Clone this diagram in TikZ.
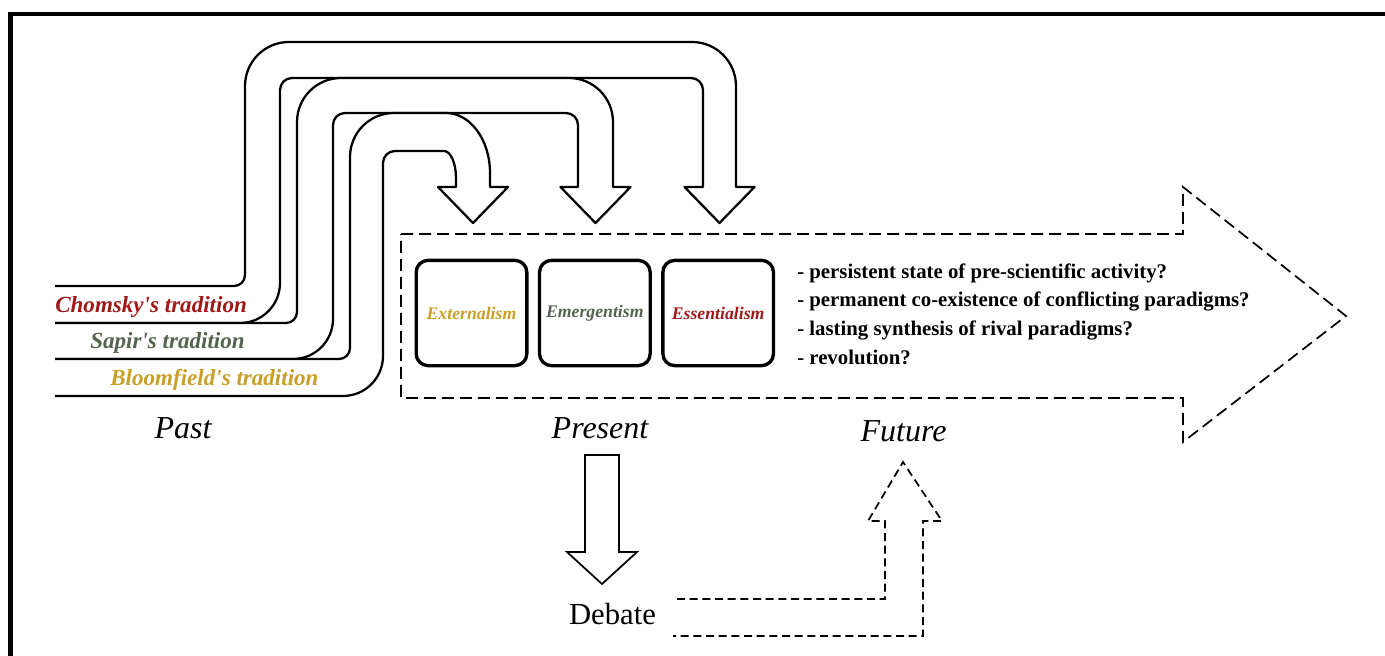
\documentclass[tikz,border=0pt]{standalone}
\usepackage{fontspec}
\setmainfont{Liberation Serif}
\usetikzlibrary{positioning}
\definecolor{chomskyred}{RGB}{160,25,25}
\definecolor{sapirgreen}{RGB}{85,100,78}
\definecolor{bloomgold}{RGB}{200,160,40}
\tikzset{ribbon/.style={draw, fill=white, line width=1.7pt, line join=round}}
\tikzset{dashedshape/.style={draw, line width=1.3pt, dash pattern=on 9pt off 4.5pt}}
\tikzset{paradigm/.style={draw, line width=2.5pt, rounded corners=9pt, minimum width=83pt, minimum height=79pt, inner sep=0pt, font=\fontsize{13.3}{16}\selectfont\bfseries\itshape}}
\tikzset{tradlabel/.style={anchor=base west, inner sep=0pt, font=\fontsize{17.3}{20}\selectfont\bfseries\itshape}}
\tikzset{timelabel/.style={anchor=base, inner sep=0pt, font=\fontsize{24}{28}\selectfont\itshape}}
\tikzset{question/.style={anchor=base west, inner sep=0pt, font=\fontsize{15.6}{19}\selectfont\bfseries}}

\begin{document}
\begin{tikzpicture}[x=0.75pt, y=-0.75pt]
	\useasboundingbox (0,0) rectangle (1385,656);
	\draw[line width=3.4pt] (10.5,656) -- (10.5,14) -- (1385,14);
	%
	\foreach \yup/\ylo/\xout/\xin/\ytout/\ytin/\xrin/\xrout/\ryout/\ryin in
		{286/323/245/280/42/78/703/736/44/12,
		 323/359/297/333/78/113/578/613/44/12,
		 359/396/350/383/113/151/456/490/60/27}
		\draw[ribbon] (55,\yup) -- (\xout-11,\yup)
			arc[start angle=90, end angle=0, radius=11] -- (\xout,\ytout+44)
			arc[start angle=180, end angle=270, radius=44] -- (\xrout-44,\ytout)
			arc[start angle=270, end angle=360, x radius=44, y radius=\ryout] -- (\xrout,187)
			-- ({(\xrin+\xrout)/2+35},187) -- ({(\xrin+\xrout)/2},223)
			-- ({(\xrin+\xrout)/2-35},187) -- (\xrin,187) -- (\xrin,\ytin+\ryin)
			arc[start angle=0, end angle=-90, x radius=12, y radius=\ryin] -- (\xin+12,\ytin)
			arc[start angle=270, end angle=180, radius=12] -- (\xin,\ylo-40)
			arc[start angle=0, end angle=90, radius=40] -- (55,\ylo);
	%
	\node[tradlabel, text=chomskyred] (chomsky) at (55,312) {Chomsky\textquotesingle s tradition};
	\node[tradlabel, text=sapirgreen] (sapir) at (90,348) {Sapir\textquotesingle s tradition};
	\node[tradlabel, text=bloomgold] (bloom) at (110,385) {Bloomfield\textquotesingle s tradition};
	%
	\draw[dashedshape] (401,234) -- (1183,234) -- (1183,187) -- (1346,316)
		-- (1183,442) -- (1183,398) -- (401,398) -- cycle;
	\node[paradigm, text=bloomgold] (ext) at (471.5,313) {Externalism};
	\node[paradigm, text=sapirgreen, right=7pt of ext] (emer) {Emergentism};
	\node[paradigm, text=chomskyred, right=7pt of emer] (ess) {Essentialism};
	\foreach \q [count=\i] in {- persistent state of pre-scientific activity?,
		- permanent co-existence of conflicting paradigms?,
		- lasting synthesis of rival paradigms?,
		- revolution?}
		\node[question] (q\i) at (797,{278+28.7*(\i-1)}) {\q};
	%
	\node[timelabel] (past) at (183,438) {Past};
	\node[timelabel] (present) at (600,438) {Present};
	\node[timelabel] (future) at (903.5,441) {Future};
	\node[timelabel, font=\fontsize{23}{28}\selectfont] (debate) at (612.5,624) {Debate};
	%
	\draw[line width=1.3pt, fill=white] (585,455) -- (619,455) -- (619,552) -- (637,552)
		-- (602,584) -- (567,552) -- (585,552) -- cycle;
	\draw[dashedshape, dash pattern=on 6pt off 3.5pt] (677,599) -- (885,599) -- (885,521)
		-- (868,521) -- (903,462) -- (942,521) -- (923,521) -- (923,636) -- (673,636);
\end{tikzpicture}
\end{document}
